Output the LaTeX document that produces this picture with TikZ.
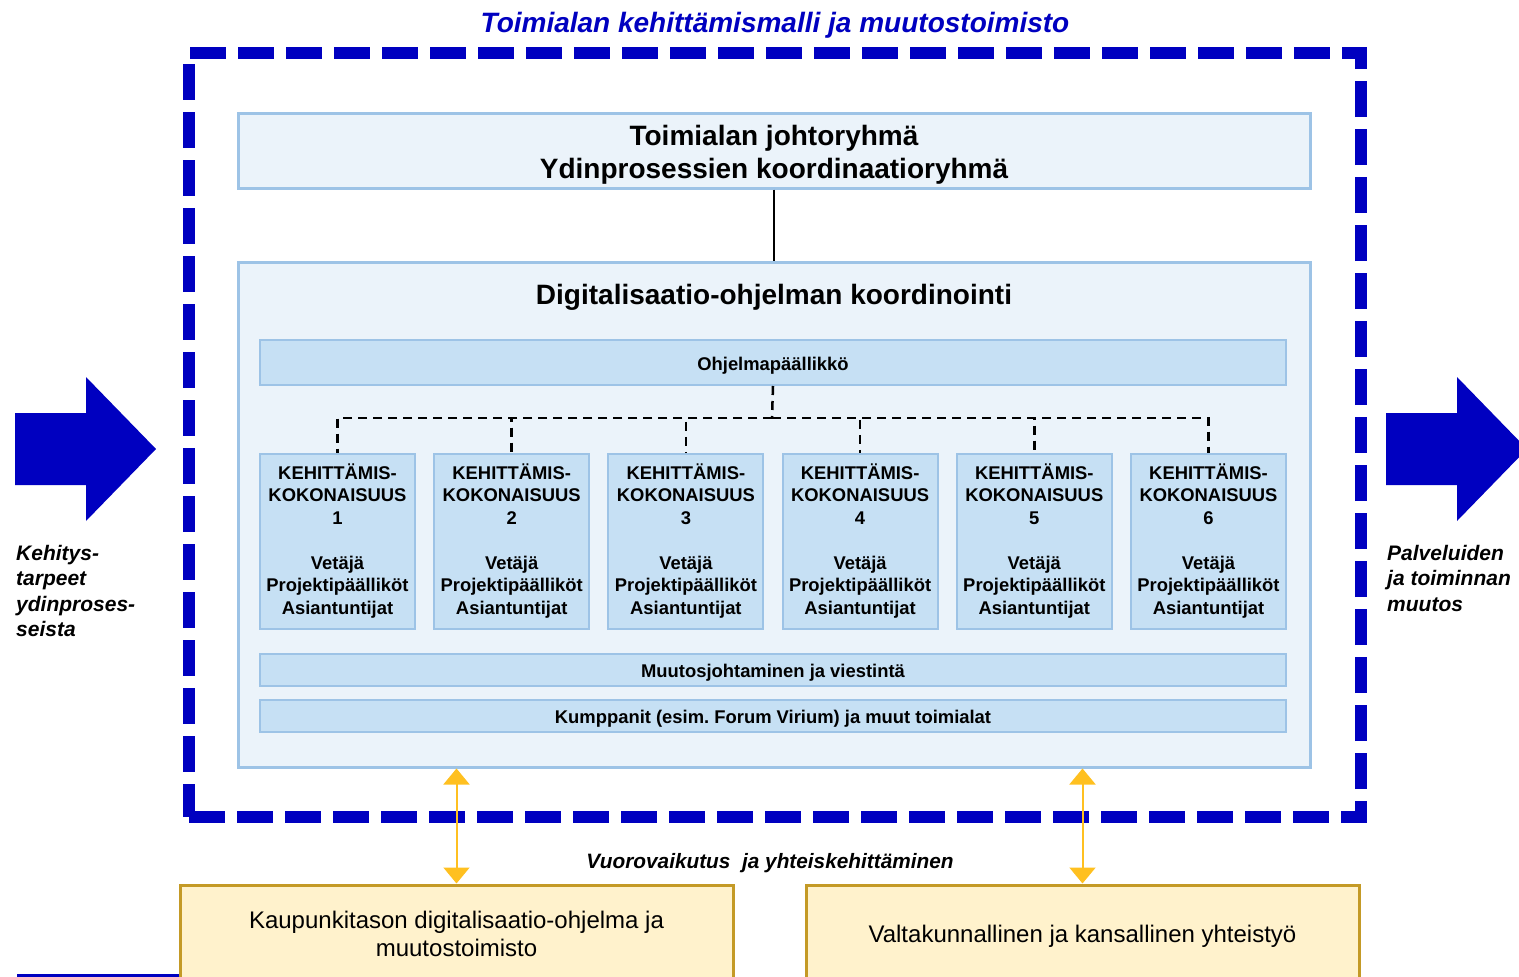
\documentclass[tikz,border=0pt]{standalone}
\usepackage{fontspec}
\setmainfont{Liberation Sans}
\usepackage{xcolor}
\usepackage{tikz}
\usetikzlibrary{arrows.meta}
\definecolor{tummasininen}{RGB}{0,0,192}
\definecolor{vaalea}{RGB}{235,243,250}
\definecolor{reuna}{RGB}{157,195,230}
\definecolor{palkkivari}{RGB}{198,224,244}
\definecolor{keltapohja}{RGB}{255,242,204}
\definecolor{keltareuna}{RGB}{196,154,38}
\definecolor{oranssi}{RGB}{255,192,32}
\tikzstyle{ryhma}=[draw=reuna, fill=vaalea, line width=3pt, inner sep=0, align=center, font=\bfseries\fontsize{28}{33}\selectfont]
\tikzstyle{palkki}=[draw=reuna, fill=palkkivari, line width=2pt, inner sep=0, minimum width=1026pt, text height=19.5pt, text depth=3.8pt, font=\bfseries\fontsize{18.4}{22.5}\selectfont]
\tikzstyle{kokonaisuus}=[draw=reuna, fill=palkkivari, line width=2pt, inner sep=0, minimum width=155pt, minimum height=175pt, align=center, font=\bfseries\fontsize{18.4}{22.5}\selectfont]
\tikzstyle{taho}=[draw=keltareuna, fill=keltapohja, line width=3pt, inner sep=0, minimum width=553pt, minimum height=98pt, align=center, font=\fontsize{24}{28.5}\selectfont]
\tikzstyle{kursiivi}=[inner sep=0, align=left, font=\bfseries\itshape\fontsize{21}{25.5}\selectfont]
\tikzstyle{katkoviiva}=[line width=2.5pt, dash pattern=on 9pt off 6pt]
\tikzstyle{vuoro}=[draw=oranssi, line width=2pt, {Triangle[width=26pt,length=16pt]}-{Triangle[width=26pt,length=16pt]}]

\begin{document}
\begin{tikzpicture}[x=1pt, y=-1pt]
\useasboundingbox (0,0) rectangle (1519,977);
% nuolet sivuilla
\fill[tummasininen] (15,413)--(86,413)--(86,377)--(156,449)--(86,521)--(86,485)--(15,485)--cycle;
\fill[tummasininen] (1386,413)--(1457,413)--(1457,377)--(1527,449)--(1457,521)--(1457,485)--(1386,485)--cycle;
\node[kursiivi, anchor=base west] (tarpeet) at (16,636.5) {Kehitys-\\tarpeet\\ydinproses-\\seista};
\node[kursiivi, anchor=base west] (muutos) at (1387,611) {Palveluiden\\ja toiminnan\\muutos};
% kehys
\node[draw=tummasininen, line width=12pt, dash pattern=on 36pt off 12pt, minimum width=1172pt, minimum height=764.5pt, inner sep=0] (malli) at (775,434.75) {};
\node[text=tummasininen, font=\bfseries\itshape\fontsize{28}{33}\selectfont] (otsikko) at (775,25) {Toimialan kehittämismalli ja muutostoimisto};
% ryhmat
\node[ryhma, minimum width=1072pt, minimum height=75pt] (johto) at (774,150.5) {\rule{0pt}{28pt}Toimialan johtoryhmä\\Ydinprosessien koordinaatioryhmä};
\node[ryhma, minimum width=1072pt, minimum height=505pt] (digi) at (774,514.5) {};
\node[font=\bfseries\fontsize{28}{33}\selectfont] (digiotsikko) at (774,297) {Digitalisaatio-ohjelman koordinointi};
\draw[line width=2pt] (johto.south) -- (digi.north);
\node[palkki, minimum height=45pt] (ohjelma) at (773,362.5) {Ohjelmapäällikkö};
\coordinate (jako) at (772,418);
\foreach \i in {1,...,6}{
  \node[kokonaisuus] (k\i) at ({337.5+174.2*(\i-1)},541) {KEHITTÄMIS-\\KOKONAISUUS\\\i\\[22.5pt]Vetäjä\\Projektipäälliköt\\Asiantuntijat};
  \draw[katkoviiva] (jako) -| (k\i.north);
}
\draw[katkoviiva] (ohjelma.south) -- (jako);
\node[palkki, minimum height=32pt] (muutosjohto) at (773,670) {Muutosjohtaminen ja viestintä};
\node[palkki, minimum height=32pt] (kumppanit) at (773,716) {Kumppanit (esim.\ Forum Virium) ja muut toimialat};
% alaosa
\node[taho] (kaupunki) at (456.5,934) {Kaupunkitason digitalisaatio-ohjelma ja\\muutostoimisto};
\node[taho] (valtakunta) at (1082.5,934) {};
\node[font=\fontsize{24}{28.5}\selectfont] (yhteistyo) at (1082.5,936) {Valtakunnallinen ja kansallinen yhteistyö};
\draw[vuoro] (digi.south -| kaupunki.north) -- (kaupunki.north);
\draw[vuoro] (digi.south -| valtakunta.north) -- (valtakunta.north);
\node[font=\bfseries\itshape\fontsize{20.8}{25}\selectfont] (vuorovaikutus) at (770,863) {Vuorovaikutus\ \ ja yhteiskehittäminen};
\draw[tummasininen, line width=3pt] (17,975) -- (kaupunki.south west |- 0,975);
\end{tikzpicture}
\end{document}
